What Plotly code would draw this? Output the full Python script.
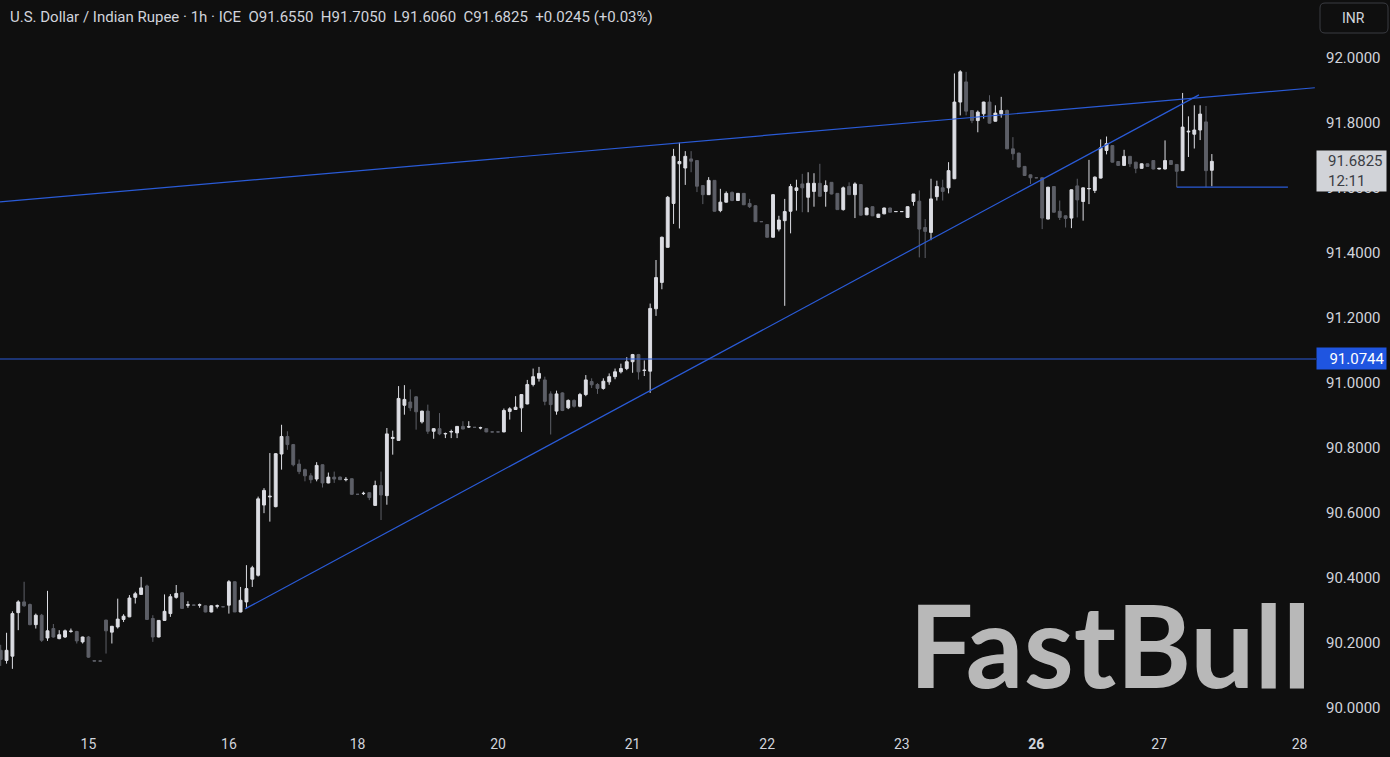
import plotly.graph_objects as go

# ---------------- data (hourly USD/INR) ----------------
open_ = [90.178, 90.147, 90.160, 90.294, 90.327, 90.319, 90.257, 90.286, 90.216, 90.245,
         90.214, 90.219, 90.236, 90.236, 90.204, 90.219, 90.146, 90.145, 90.271, 90.234,
         90.250, 90.273, 90.281, 90.341, 90.350, 90.376, 90.276, 90.219, 90.270, 90.291,
         90.341, 90.355, 90.317, 90.317, 90.317, 90.315, 90.296, 90.314, 90.312, 90.317,
         90.389, 90.296, 90.327, 90.397, 90.409, 90.625, 90.650, 90.620, 90.782, 90.836,
         90.811, 90.751, 90.734, 90.715, 90.705, 90.749, 90.693, 90.711, 90.711, 90.703,
         90.706, 90.658, 90.660, 90.663, 90.624, 90.685, 90.654, 90.830, 90.824, 90.932,
         90.942, 90.958, 90.881, 90.914, 90.852, 90.860, 90.844, 90.850, 90.847, 90.867,
         90.865, 90.864, 90.862, 90.860, 90.850, 90.850, 90.850, 90.913, 90.919, 90.924,
         90.936, 90.996, 91.015, 91.010, 90.967, 90.914, 90.970, 90.924, 90.947, 90.929,
         90.965, 91.005, 90.996, 90.984, 91.004, 91.020, 91.035, 91.045, 91.066, 91.088,
         91.039, 91.037, 91.229, 91.310, 91.418, 91.553, 91.675, 91.662, 91.690, 91.685,
         91.608, 91.580, 91.624, 91.531, 91.557, 91.587, 91.562, 91.584, 91.553, 91.546,
         91.497, 91.488, 91.449, 91.474, 91.500, 91.529, 91.593, 91.613, 91.572, 91.590,
         91.615, 91.590, 91.618, 91.584, 91.534, 91.605, 91.580, 91.611, 91.518, 91.543,
         91.510, 91.521, 91.539, 91.528, 91.528, 91.510, 91.559, 91.560, 91.479, 91.464,
         91.574, 91.601, 91.601, 91.629, 91.865, 91.927, 91.839, 91.808, 91.829, 91.865,
         91.806, 91.829, 91.839, 91.721, 91.708, 91.667, 91.641, 91.632, 91.632, 91.505,
         91.605, 91.529, 91.515, 91.508, 91.607, 91.559, 91.598, 91.593, 91.631, 91.716,
         91.731, 91.682, 91.670, 91.698, 91.680, 91.661, 91.675, 91.685, 91.659, 91.659,
         91.685, 91.673, 91.654, 91.773, 91.766, 91.779, 91.804, 91.655]
high_ = [90.195, 90.232, 90.298, 90.332, 90.389, 90.322, 90.291, 90.290, 90.361, 90.259,
         90.240, 90.242, 90.245, 90.238, 90.220, 90.222, 90.147, 90.146, 90.272, 90.253,
         90.337, 90.289, 90.348, 90.358, 90.404, 90.380, 90.286, 90.271, 90.350, 90.351,
         90.379, 90.357, 90.329, 90.318, 90.322, 90.316, 90.316, 90.319, 90.313, 90.394,
         90.390, 90.373, 90.440, 90.438, 90.651, 90.677, 90.785, 90.785, 90.872, 90.852,
         90.813, 90.765, 90.737, 90.723, 90.757, 90.750, 90.725, 90.728, 90.713, 90.711,
         90.707, 90.659, 90.666, 90.664, 90.700, 90.728, 90.862, 90.854, 90.991, 90.994,
         90.981, 90.960, 90.915, 90.934, 90.862, 90.908, 90.848, 90.857, 90.868, 90.883,
         90.883, 90.865, 90.866, 90.861, 90.851, 90.851, 90.922, 90.926, 90.960, 90.966,
         91.010, 91.045, 91.050, 91.020, 90.975, 90.977, 90.972, 90.950, 90.950, 90.970,
         91.025, 91.015, 91.000, 91.015, 91.030, 91.045, 91.060, 91.080, 91.090, 91.090,
         91.070, 91.245, 91.379, 91.451, 91.576, 91.721, 91.740, 91.714, 91.714, 91.686,
         91.609, 91.634, 91.625, 91.598, 91.590, 91.590, 91.585, 91.585, 91.567, 91.547,
         91.498, 91.489, 91.581, 91.515, 91.567, 91.613, 91.626, 91.644, 91.649, 91.646,
         91.675, 91.624, 91.619, 91.585, 91.605, 91.618, 91.618, 91.612, 91.540, 91.544,
         91.521, 91.540, 91.540, 91.529, 91.529, 91.544, 91.582, 91.593, 91.505, 91.629,
         91.623, 91.626, 91.680, 91.953, 91.963, 91.958, 91.840, 91.839, 91.866, 91.886,
         91.855, 91.881, 91.842, 91.757, 91.709, 91.668, 91.642, 91.633, 91.633, 91.604,
         91.606, 91.562, 91.516, 91.596, 91.629, 91.602, 91.687, 91.636, 91.750, 91.759,
         91.732, 91.683, 91.718, 91.699, 91.681, 91.676, 91.676, 91.686, 91.662, 91.747,
         91.686, 91.674, 91.893, 91.821, 91.855, 91.855, 91.853, 91.705]
low_ = [90.130, 90.137, 90.121, 90.240, 90.312, 90.255, 90.245, 90.204, 90.207, 90.217,
        90.212, 90.216, 90.232, 90.199, 90.199, 90.155, 90.145, 90.144, 90.168, 90.199,
        90.245, 90.265, 90.280, 90.322, 90.349, 90.272, 90.204, 90.218, 90.269, 90.281,
        90.337, 90.306, 90.309, 90.316, 90.309, 90.295, 90.295, 90.307, 90.311, 90.291,
        90.296, 90.295, 90.307, 90.373, 90.405, 90.600, 90.574, 90.618, 90.734, 90.795,
        90.744, 90.720, 90.698, 90.692, 90.698, 90.679, 90.692, 90.693, 90.702, 90.698,
        90.657, 90.657, 90.656, 90.640, 90.623, 90.579, 90.626, 90.780, 90.823, 90.903,
        90.914, 90.857, 90.876, 90.844, 90.829, 90.840, 90.831, 90.831, 90.831, 90.858,
        90.862, 90.863, 90.858, 90.849, 90.849, 90.849, 90.849, 90.888, 90.918, 90.850,
        90.935, 90.990, 91.005, 90.932, 90.842, 90.903, 90.914, 90.920, 90.925, 90.926,
        90.960, 90.985, 90.967, 90.980, 90.995, 91.012, 91.030, 91.040, 91.032, 91.011,
        91.022, 90.970, 91.207, 91.289, 91.417, 91.490, 91.476, 91.610, 91.649, 91.588,
        91.551, 91.579, 91.528, 91.526, 91.556, 91.560, 91.561, 91.548, 91.539, 91.496,
        91.496, 91.448, 91.448, 91.467, 91.238, 91.461, 91.531, 91.526, 91.526, 91.543,
        91.574, 91.543, 91.581, 91.533, 91.531, 91.579, 91.508, 91.516, 91.517, 91.514,
        91.509, 91.520, 91.525, 91.527, 91.527, 91.509, 91.546, 91.387, 91.385, 91.440,
        91.562, 91.562, 91.584, 91.628, 91.824, 91.824, 91.800, 91.772, 91.814, 91.799,
        91.805, 91.817, 91.720, 91.687, 91.664, 91.638, 91.613, 91.631, 91.474, 91.504,
        91.525, 91.502, 91.479, 91.477, 91.510, 91.500, 91.551, 91.585, 91.630, 91.704,
        91.679, 91.669, 91.669, 91.665, 91.646, 91.660, 91.666, 91.658, 91.658, 91.658,
        91.672, 91.603, 91.653, 91.696, 91.722, 91.748, 91.603, 91.606]
close_ = [90.150, 90.178, 90.291, 90.327, 90.315, 90.257, 90.286, 90.209, 90.238, 90.219,
          90.226, 90.238, 90.237, 90.207, 90.219, 90.157, 90.145, 90.145, 90.238, 90.252,
          90.274, 90.283, 90.339, 90.352, 90.370, 90.273, 90.219, 90.270, 90.298, 90.343,
          90.353, 90.307, 90.318, 90.317, 90.318, 90.296, 90.315, 90.315, 90.312, 90.389,
          90.296, 90.332, 90.368, 90.432, 90.644, 90.670, 90.652, 90.783, 90.836, 90.811,
          90.749, 90.728, 90.715, 90.703, 90.747, 90.693, 90.711, 90.705, 90.703, 90.704,
          90.658, 90.658, 90.661, 90.648, 90.685, 90.656, 90.844, 90.833, 90.953, 90.950,
          90.924, 90.912, 90.914, 90.852, 90.860, 90.844, 90.845, 90.851, 90.867, 90.859,
          90.866, 90.864, 90.863, 90.850, 90.850, 90.850, 90.916, 90.921, 90.926, 90.965,
          90.996, 91.020, 91.030, 90.944, 90.934, 90.967, 90.916, 90.947, 90.929, 90.965,
          91.010, 90.995, 90.984, 91.006, 91.020, 91.035, 91.045, 91.066, 91.088, 91.035,
          91.040, 91.230, 91.325, 91.449, 91.572, 91.698, 91.682, 91.698, 91.683, 91.606,
          91.580, 91.624, 91.529, 91.557, 91.584, 91.562, 91.584, 91.549, 91.543, 91.497,
          91.497, 91.449, 91.580, 91.502, 91.528, 91.605, 91.601, 91.601, 91.615, 91.615,
          91.575, 91.608, 91.582, 91.534, 91.601, 91.580, 91.613, 91.517, 91.539, 91.515,
          91.520, 91.539, 91.526, 91.528, 91.528, 91.543, 91.582, 91.474, 91.467, 91.567,
          91.605, 91.590, 91.654, 91.865, 91.958, 91.837, 91.808, 91.834, 91.865, 91.800,
          91.831, 91.839, 91.721, 91.706, 91.665, 91.639, 91.632, 91.632, 91.508, 91.603,
          91.526, 91.510, 91.507, 91.595, 91.564, 91.601, 91.599, 91.634, 91.724, 91.737,
          91.680, 91.670, 91.698, 91.675, 91.661, 91.675, 91.667, 91.659, 91.661, 91.685,
          91.673, 91.652, 91.788, 91.775, 91.779, 91.828, 91.654, 91.6825]
bar_index = list(range(len(open_)))

day_tick_index = [15, 39, 61, 85, 108, 131, 154, 177, 198, 222]
day_tick_text = ["15", "16", "18", "20", "21", "22", "23", "<b>26</b>", "27", "28"]

price_ticks = [90.0, 90.2, 90.4, 90.6, 90.8, 91.0, 91.2, 91.4, 91.6, 91.8, 92.0]

# drawings (anchor points: bar index, price)
upper_trend_x = [-0.12, 224.6]
upper_trend_y = [91.558, 91.909]
lower_trend_x = [41.76, 204.8]
lower_trend_y = [90.3055, 91.887]
support_x = [201, 220]
support_y = [91.603, 91.603]
level_price = 91.0744
last_price = 91.6825
countdown = "12:11"

title_text = ("U.S. Dollar / Indian Rupee · 1h · ICE  O91.6550  H91.7050  "
              "L91.6060  C91.6825  +0.0245 (+0.03%)")

# ---------------- style ----------------
BG = "#0f0f0f"
UP = "#dcdde3"
DN = "#5d5f67"
BLUE = "#2a5bd7"
TXT = "#d1d4dc"
FONT = "Roboto"

W, H = 1390, 757
ML, MR, MT, MB = 0, 74, 0, 29
PW = W - ML - MR
PH = H - MT - MB

def px_x(p):
    return (p - ML) / PW

def px_y(p):
    return (H - MB - p) / PH

fig = go.Figure()
fig.add_trace(go.Candlestick(
    x=bar_index, open=open_, high=high_, low=low_, close=close_,
    increasing=dict(line=dict(color=UP, width=1), fillcolor=UP),
    decreasing=dict(line=dict(color=DN, width=1), fillcolor=DN),
    whiskerwidth=0, hoverinfo="skip", showlegend=False))

shapes = [
    dict(type="line", xref="x", yref="y", x0=upper_trend_x[0], x1=upper_trend_x[1],
         y0=upper_trend_y[0], y1=upper_trend_y[1], line=dict(color=BLUE, width=1.2)),
    dict(type="line", xref="x", yref="y", x0=lower_trend_x[0], x1=lower_trend_x[1],
         y0=lower_trend_y[0], y1=lower_trend_y[1], line=dict(color=BLUE, width=1.2)),
    dict(type="line", xref="x", yref="y", x0=support_x[0], x1=support_x[1],
         y0=support_y[0], y1=support_y[1], line=dict(color=BLUE, width=1.2)),
    dict(type="line", xref="paper", yref="y", x0=0, x1=1, y0=level_price, y1=level_price,
         line=dict(color=BLUE, width=1.2)),
]

# INR rounded box
x0, x1 = px_x(1320), px_x(1388)
y0, y1 = px_y(33), px_y(3)
rx, ry = 5 / PW, 5 / PH
path = (f"M {x0+rx},{y0} L {x1-rx},{y0} Q {x1},{y0} {x1},{y0+ry} L {x1},{y1-ry} "
        f"Q {x1},{y1} {x1-rx},{y1} L {x0+rx},{y1} Q {x0},{y1} {x0},{y1-ry} "
        f"L {x0},{y0+ry} Q {x0},{y0} {x0+rx},{y0} Z")
shapes.append(dict(type="path", xref="paper", yref="paper", path=path,
                   line=dict(color="#3a3c42", width=1), fillcolor=BG))

annotations = [
    dict(xref="paper", yref="paper", x=px_x(8), y=px_y(17), xanchor="left", yanchor="middle",
         text=title_text, showarrow=False, font=dict(family=FONT, size=15, color=TXT)),
    dict(xref="paper", yref="paper", x=px_x(1354), y=px_y(18), xanchor="center", yanchor="middle",
         text="INR", showarrow=False, font=dict(family=FONT, size=14, color=TXT)),
    dict(xref="paper", yref="y", x=px_x(1316), y=level_price, xanchor="left", yanchor="middle",
         text=f"{level_price:.4f}", showarrow=False, bgcolor="#1f55e0", width=66, height=18,
         borderpad=1.5, align="right", font=dict(family=FONT, size=15, color="#ffffff")),
    # last price box (background) and its two text lines
    dict(xref="paper", yref="y", x=px_x(1316), y=91.652, xanchor="left", yanchor="middle",
         text=" <br> ", showarrow=False, bgcolor="#d1d3d8",
         width=66, height=37, borderpad=1.5, align="left",
         font=dict(family=FONT, size=15, color="#d1d3d8")),
    dict(xref="paper", yref="y", x=px_x(1326), y=91.652, xanchor="left", yanchor="middle",
         text=f"{last_price:.4f}<br>{countdown}", showarrow=False, align="left",
         font=dict(family=FONT, size=15, color="#3b3d44")),
    dict(xref="paper", yref="paper", x=px_x(1110), y=px_y(643), xanchor="center", yanchor="middle",
         text="<b>FastBull</b>", showarrow=False,
         font=dict(family="Lato", size=114, color="#b8b8b8")),
]

fig.update_layout(
    width=W, height=H, margin=dict(l=ML, r=MR, t=MT, b=MB),
    paper_bgcolor=BG, plot_bgcolor=BG, showlegend=False,
    shapes=shapes, annotations=annotations,
    xaxis=dict(range=[-0.12, 224.8], rangeslider=dict(visible=False), showgrid=False,
               zeroline=False, showline=False, tickmode="array", tickvals=day_tick_index,
               ticktext=day_tick_text, ticks="", ticklabelstandoff=6,
               tickfont=dict(family=FONT, size=14, color=TXT), fixedrange=True),
    yaxis=dict(range=[89.939, 92.179], side="right", showgrid=False, zeroline=False,
               showline=False, tickmode="array", tickvals=price_ticks,
               ticktext=[f"{v:.4f}" for v in price_ticks], ticks="", ticklabelstandoff=9,
               tickfont=dict(family=FONT, size=15, color=TXT), fixedrange=True),
)

fig.write_html("out.html", config={"displayModeBar": False},
               post_script="document.body.style.margin='0';"
                           "document.body.style.background='#0f0f0f';")
